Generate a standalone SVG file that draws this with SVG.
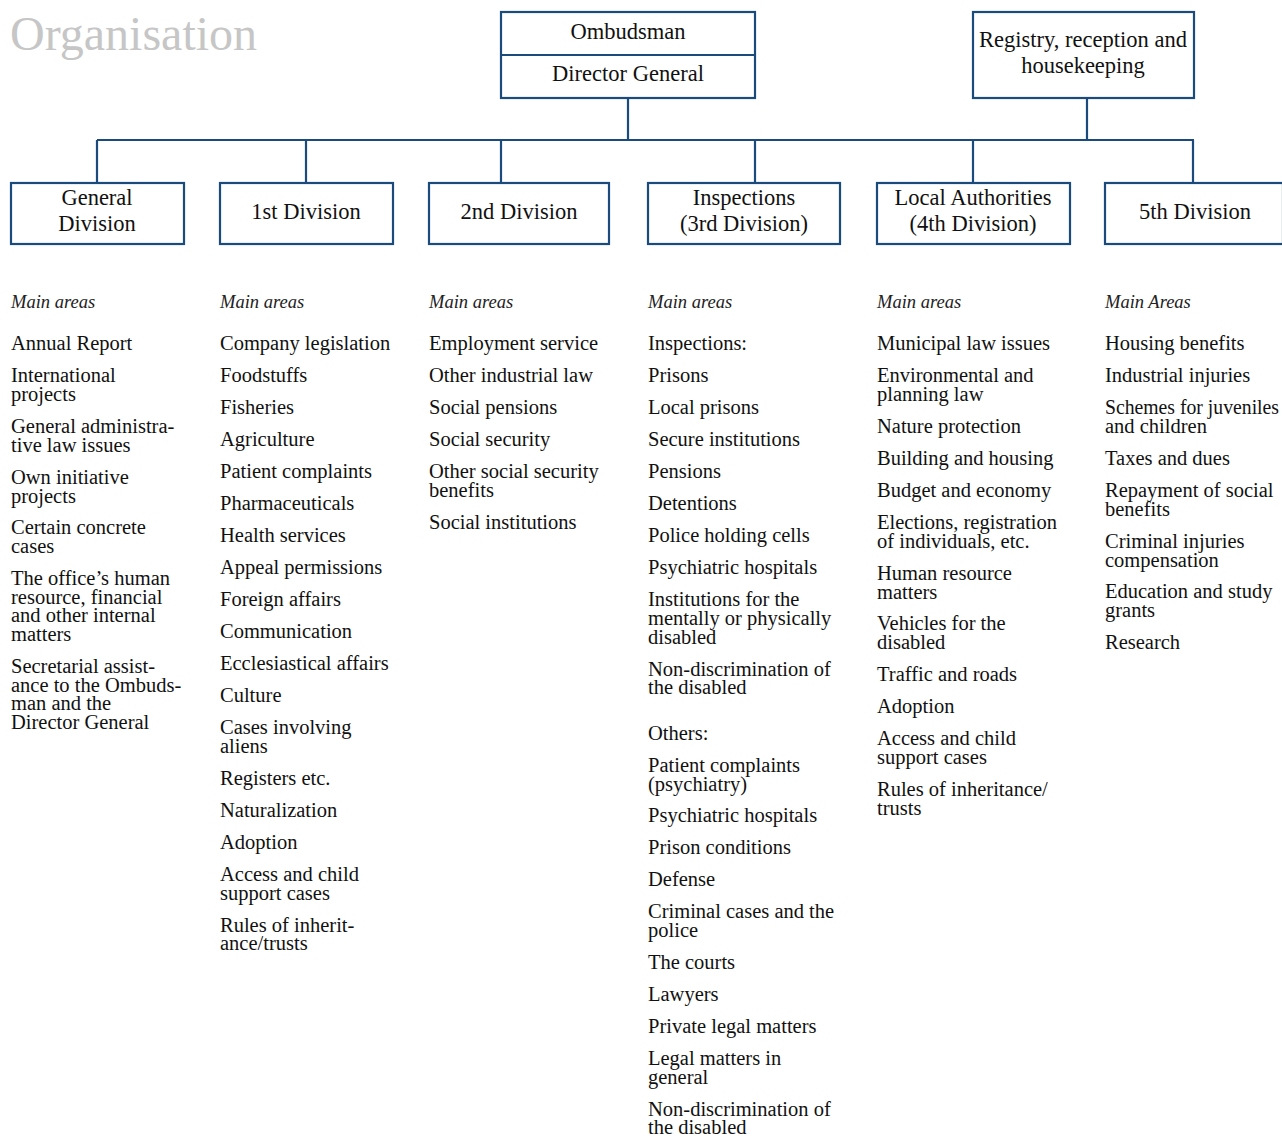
<svg xmlns="http://www.w3.org/2000/svg" width="1282" height="1136" viewBox="0 0 1282 1136">
<style>
.box{fill:#fff;stroke:#1b4a7c;stroke-width:2.2}
.con{fill:none;stroke:#1b4a7c;stroke-width:2.2}
.bt{font-family:"Liberation Serif","Times New Roman",serif;font-size:22.5px;fill:#111;text-anchor:middle}
.it{font-family:"Liberation Serif","Times New Roman",serif;font-size:20.5px;fill:#111}
.hd{font-family:"Liberation Serif","Times New Roman",serif;font-size:18.5px;font-style:italic;fill:#222}
.title{font-family:"Liberation Serif","Times New Roman",serif;font-size:48px;fill:#c6c6c6}
</style>
<rect width="1282" height="1136" fill="#fff"/>
<text class="title" x="10" y="50">Organisation</text>

<g id="connectors">
<path class="con" d="M628 98V141 M1087 98V141 M97 140H1194 M97 140V183 M306 140V183 M501 140V183 M755 140V183 M973 140V183 M1193 140V183"/>
</g>

<g id="ombudsman">
<rect class="box" x="501" y="12" width="254" height="86"/>
<line class="con" x1="501" y1="55" x2="755" y2="55"/>
<text class="bt" x="628" y="39">Ombudsman</text>
<text class="bt" x="628" y="81">Director General</text>
</g>
<g id="registry">
<rect class="box" x="973" y="12" width="221" height="86"/>
<text class="bt" x="1083" y="47">Registry, reception and</text>
<text class="bt" x="1083" y="73">housekeeping</text>
</g>
<g id="general">
<rect class="box" x="11" y="183" width="173" height="61"/>
<text class="bt" x="97" y="205">General</text>
<text class="bt" x="97" y="231">Division</text>
</g>
<g id="div1">
<rect class="box" x="220" y="183" width="173" height="61"/>
<text class="bt" x="306" y="219">1st Division</text>
</g>
<g id="div2">
<rect class="box" x="429" y="183" width="180" height="61"/>
<text class="bt" x="519" y="219">2nd Division</text>
</g>
<g id="div3">
<rect class="box" x="648" y="183" width="192" height="61"/>
<text class="bt" x="744" y="205">Inspections</text>
<text class="bt" x="744" y="231">(3rd Division)</text>
</g>
<g id="div4">
<rect class="box" x="877" y="183" width="193" height="61"/>
<text class="bt" x="973" y="205">Local Authorities</text>
<text class="bt" x="973" y="231">(4th Division)</text>
</g>
<g id="div5">
<rect class="box" x="1105" y="183" width="178" height="61"/>
<text class="bt" x="1195" y="219">5th Division</text>
</g>

<g id="col-general">
<text class="hd" x="11" y="308">Main areas</text>
<text class="it" x="11" y="350">Annual Report</text>
<text class="it" x="11" y="382">International</text>
<text class="it" x="11" y="401">projects</text>
<text class="it" x="11" y="433">General administra-</text>
<text class="it" x="11" y="452">tive law issues</text>
<text class="it" x="11" y="484">Own initiative</text>
<text class="it" x="11" y="503">projects</text>
<text class="it" x="11" y="534">Certain concrete</text>
<text class="it" x="11" y="553">cases</text>
<text class="it" x="11" y="585">The office’s human</text>
<text class="it" x="11" y="604">resource, financial</text>
<text class="it" x="11" y="622">and other internal</text>
<text class="it" x="11" y="641">matters</text>
<text class="it" x="11" y="673">Secretarial assist-</text>
<text class="it" x="11" y="692">ance to the Ombuds-</text>
<text class="it" x="11" y="710">man and the</text>
<text class="it" x="11" y="729">Director General</text>
</g>

<g id="col-div1">
<text class="hd" x="220" y="308">Main areas</text>
<text class="it" x="220" y="350">Company legislation</text>
<text class="it" x="220" y="382">Foodstuffs</text>
<text class="it" x="220" y="414">Fisheries</text>
<text class="it" x="220" y="446">Agriculture</text>
<text class="it" x="220" y="478">Patient complaints</text>
<text class="it" x="220" y="510">Pharmaceuticals</text>
<text class="it" x="220" y="542">Health services</text>
<text class="it" x="220" y="574">Appeal permissions</text>
<text class="it" x="220" y="606">Foreign affairs</text>
<text class="it" x="220" y="638">Communication</text>
<text class="it" x="220" y="670">Ecclesiastical affairs</text>
<text class="it" x="220" y="702">Culture</text>
<text class="it" x="220" y="734">Cases involving</text>
<text class="it" x="220" y="753">aliens</text>
<text class="it" x="220" y="785">Registers etc.</text>
<text class="it" x="220" y="817">Naturalization</text>
<text class="it" x="220" y="849">Adoption</text>
<text class="it" x="220" y="881">Access and child</text>
<text class="it" x="220" y="900">support cases</text>
<text class="it" x="220" y="932">Rules of inherit-</text>
<text class="it" x="220" y="950">ance/trusts</text>
</g>

<g id="col-div2">
<text class="hd" x="429" y="308">Main areas</text>
<text class="it" x="429" y="350">Employment service</text>
<text class="it" x="429" y="382">Other industrial law</text>
<text class="it" x="429" y="414">Social pensions</text>
<text class="it" x="429" y="446">Social security</text>
<text class="it" x="429" y="478">Other social security</text>
<text class="it" x="429" y="497">benefits</text>
<text class="it" x="429" y="529">Social institutions</text>
</g>

<g id="col-div3">
<text class="hd" x="648" y="308">Main areas</text>
<text class="it" x="648" y="350">Inspections:</text>
<text class="it" x="648" y="382">Prisons</text>
<text class="it" x="648" y="414">Local prisons</text>
<text class="it" x="648" y="446">Secure institutions</text>
<text class="it" x="648" y="478">Pensions</text>
<text class="it" x="648" y="510">Detentions</text>
<text class="it" x="648" y="542">Police holding cells</text>
<text class="it" x="648" y="574">Psychiatric hospitals</text>
<text class="it" x="648" y="606">Institutions for the</text>
<text class="it" x="648" y="625">mentally or physically</text>
<text class="it" x="648" y="644">disabled</text>
<text class="it" x="648" y="676">Non-discrimination of</text>
<text class="it" x="648" y="694">the disabled</text>
<text class="it" x="648" y="740">Others:</text>
<text class="it" x="648" y="772">Patient complaints</text>
<text class="it" x="648" y="791">(psychiatry)</text>
<text class="it" x="648" y="822">Psychiatric hospitals</text>
<text class="it" x="648" y="854">Prison conditions</text>
<text class="it" x="648" y="886">Defense</text>
<text class="it" x="648" y="918">Criminal cases and the</text>
<text class="it" x="648" y="937">police</text>
<text class="it" x="648" y="969">The courts</text>
<text class="it" x="648" y="1001">Lawyers</text>
<text class="it" x="648" y="1033">Private legal matters</text>
<text class="it" x="648" y="1065">Legal matters in</text>
<text class="it" x="648" y="1084">general</text>
<text class="it" x="648" y="1116">Non-discrimination of</text>
<text class="it" x="648" y="1134">the disabled</text>
</g>

<g id="col-div4">
<text class="hd" x="877" y="308">Main areas</text>
<text class="it" x="877" y="350">Municipal law issues</text>
<text class="it" x="877" y="382">Environmental and</text>
<text class="it" x="877" y="401">planning law</text>
<text class="it" x="877" y="433">Nature protection</text>
<text class="it" x="877" y="465">Building and housing</text>
<text class="it" x="877" y="497">Budget and economy</text>
<text class="it" x="877" y="529">Elections, registration</text>
<text class="it" x="877" y="548">of individuals, etc.</text>
<text class="it" x="877" y="580">Human resource</text>
<text class="it" x="877" y="599">matters</text>
<text class="it" x="877" y="630">Vehicles for the</text>
<text class="it" x="877" y="649">disabled</text>
<text class="it" x="877" y="681">Traffic and roads</text>
<text class="it" x="877" y="713">Adoption</text>
<text class="it" x="877" y="745">Access and child</text>
<text class="it" x="877" y="764">support cases</text>
<text class="it" x="877" y="796">Rules of inheritance/</text>
<text class="it" x="877" y="815">trusts</text>
</g>

<g id="col-div5">
<text class="hd" x="1105" y="308">Main Areas</text>
<text class="it" x="1105" y="350">Housing benefits</text>
<text class="it" x="1105" y="382">Industrial injuries</text>
<text class="it" x="1105" y="414" textLength="174" lengthAdjust="spacingAndGlyphs">Schemes for juveniles</text>
<text class="it" x="1105" y="433">and children</text>
<text class="it" x="1105" y="465">Taxes and dues</text>
<text class="it" x="1105" y="497">Repayment of social</text>
<text class="it" x="1105" y="516">benefits</text>
<text class="it" x="1105" y="548">Criminal injuries</text>
<text class="it" x="1105" y="567">compensation</text>
<text class="it" x="1105" y="598">Education and study</text>
<text class="it" x="1105" y="617">grants</text>
<text class="it" x="1105" y="649">Research</text>
</g>
</svg>
